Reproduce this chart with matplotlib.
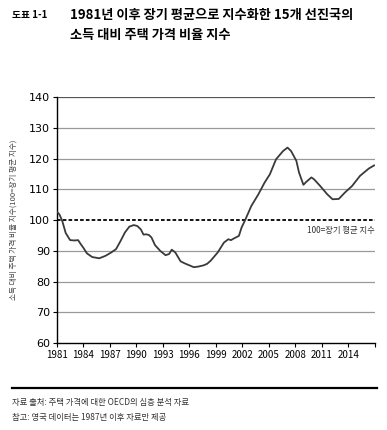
import matplotlib
matplotlib.use("Agg")
import matplotlib.pyplot as plt

plt.rcParams['font.family'] = ['Noto Sans CJK KR', 'DejaVu Sans']

# values (year, index)
years = [1981.0, 1981.3, 1981.6, 1982.0, 1982.5, 1983.0, 1983.4, 1983.7, 1984.0,
         1984.4, 1985.0, 1985.8, 1986.5, 1987.1, 1987.7, 1988.2, 1988.7, 1989.2,
         1989.7, 1990.1, 1990.5, 1990.8, 1991.1, 1991.4, 1991.7, 1992.1, 1992.7,
         1993.3, 1993.7, 1994.0, 1994.4, 1995.0, 1995.5, 1996.0, 1996.5, 1997.0,
         1997.6, 1998.0, 1998.4, 1999.2, 1999.9, 2000.4, 2000.7, 2001.0, 2001.6,
         2001.9, 2002.3, 2003.0, 2003.8, 2004.5, 2005.1, 2005.8, 2006.6, 2007.1,
         2007.5, 2008.1, 2008.4, 2008.9, 2009.2, 2009.8, 2010.1, 2010.8, 2011.6,
         2012.2, 2012.9, 2013.6, 2014.4, 2015.3, 2016.3, 2016.9]
index = [102.8, 101.8, 99.8, 95.8, 93.5, 93.4, 93.5, 92.2, 91.0,
         89.2, 88.0, 87.6, 88.4, 89.4, 90.6, 93.2, 96.0, 97.9,
         98.4, 98.1, 97.0, 95.3, 95.4, 95.2, 94.4, 91.9, 90.0,
         88.6, 89.0, 90.4, 89.5, 86.6, 85.9, 85.3, 84.7, 84.9,
         85.3, 85.8, 86.8, 89.5, 92.7, 93.8, 93.5, 94.0, 94.9,
         97.6, 100.0, 104.6, 108.4, 112.2, 114.9, 119.8, 122.5, 123.6,
         122.5, 119.3, 115.5, 111.5, 112.4, 113.9, 113.3, 111.1, 108.4,
         106.8, 106.9, 109.0, 111.1, 114.4, 116.8, 117.8]

xticks = list(range(1981, 2018, 3))
xtick_labels = [str(y) for y in range(1981, 2015, 3)] + [""]
yticks = list(range(60, 141, 10))

fig = plt.figure(figsize=(3.87, 4.30), dpi=100)
ax = fig.add_axes([0.147, 0.202, 0.822, 0.572])

for y in yticks[1:]:
    if y == 100:
        continue
    ax.axhline(y, color='#9a9a9a' if y < 140 else '#555555', lw=0.9, zorder=1)
ax.axhline(100, color='black', lw=1.3, ls=(0, (2, 1.2)), zorder=2)
ax.plot(years, index, color='#3a3a3a', lw=1.3, zorder=3)

ax.set_xlim(1981, 2017)
ax.set_ylim(60, 140)
ax.set_xticks(xticks)
ax.set_xticklabels(xtick_labels)
ax.set_yticks(yticks)
ax.tick_params(axis='x', labelsize=7, length=3, width=0.8, pad=2, direction='out')
ax.tick_params(axis='y', labelsize=8, length=3, width=0.8, pad=2)
for lab in ax.get_yticklabels():
    lab.set_fontfamily(['DejaVu Sans'])
for s in ['top', 'right']:
    ax.spines[s].set_visible(False)
ax.spines['left'].set_linewidth(1.0)
ax.spines['bottom'].set_linewidth(1.0)

ax.text(2017, 98.2, "100=장기 평균 지수", ha='right', va='top', fontsize=6, color='#333333')
ax.set_ylabel("소득 대비 주택 가격 비율 지수(100=장기 평균 지수)", fontsize=5.5,
              color='#444444', labelpad=8)

fig.text(0.03, 0.966, "도표 1-1", fontsize=7, fontweight='bold', va='center')
fig.text(0.18, 0.966, "1981년 이후 장기 평균으로 지수화한 15개 선진국의", fontsize=9.5,
         fontweight='bold', va='center')
fig.text(0.18, 0.918, "소득 대비 주택 가격 비율 지수", fontsize=9.5, fontweight='bold', va='center')

fig.add_artist(plt.Line2D([0.031, 0.974], [0.098, 0.098], color='black', lw=1.6,
                          transform=fig.transFigure))
fig.text(0.031, 0.063, "자료 출처: 주택 가격에 대한 OECD의 심층 분석 자료", fontsize=6,
         color='#333333', va='center')
fig.text(0.031, 0.028, "참고: 영국 데이터는 1987년 이후 자료만 제공", fontsize=6,
         color='#333333', va='center')

fig.savefig("out.png", dpi=100)
